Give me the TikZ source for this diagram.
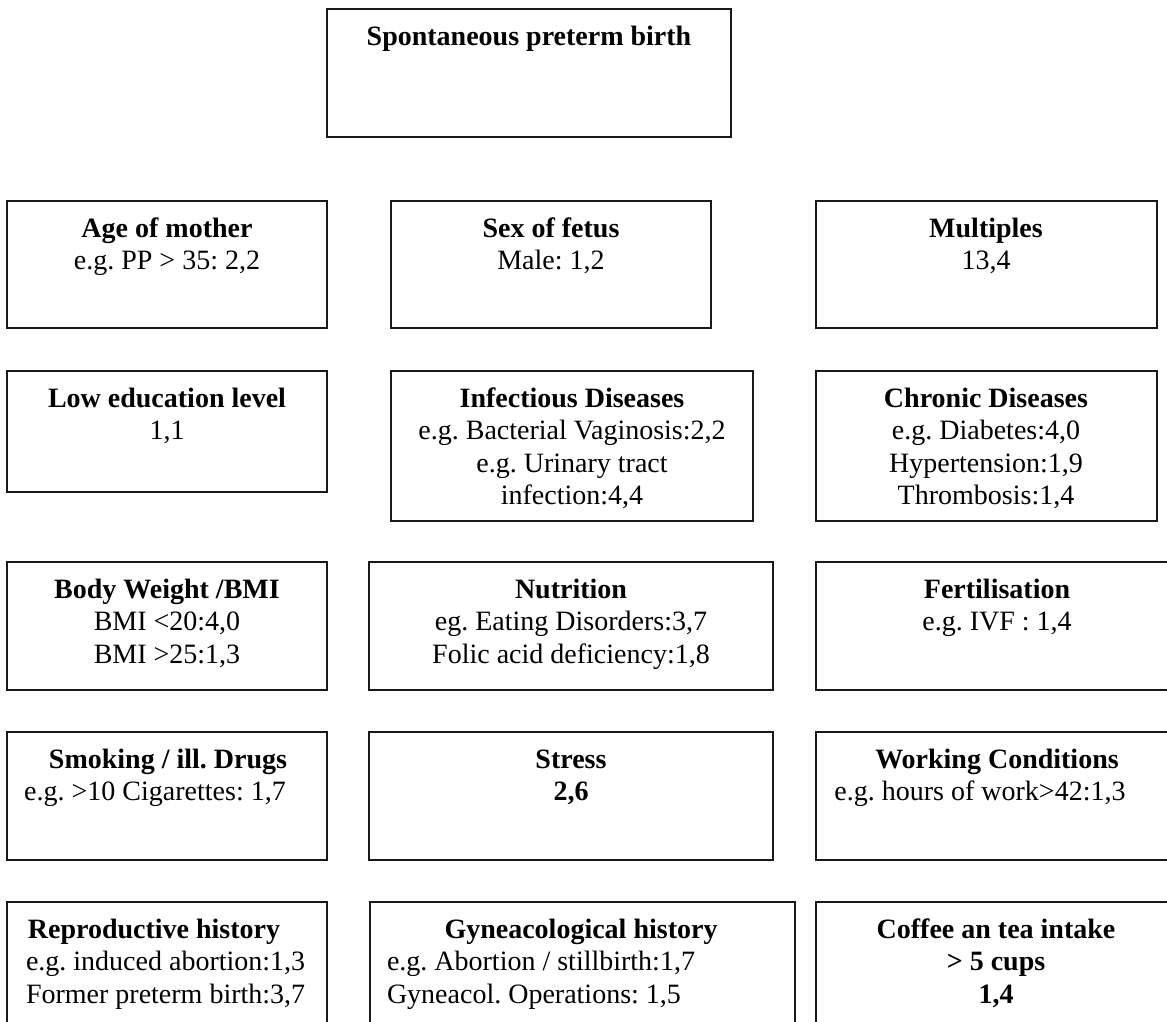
\documentclass[tikz,border=0pt]{standalone}
\usepackage{fontspec}
\setmainfont{Liberation Serif}
\frenchspacing
\begin{document}
\begin{tikzpicture}[x=1pt,y=-1pt,
  box/.style={draw=black!90, line width=1.3pt, inner sep=0pt, outer sep=0pt, anchor=north west},
  txt/.style={inner sep=0pt, outer sep=0pt, anchor=base, font=\fontsize{28}{32.5}\selectfont},
  txtl/.style={txt, anchor=base west},
  btxt/.style={txt, font=\fontsize{28}{32.5}\selectfont\bfseries}]
\useasboundingbox (0,0) rectangle (1167,1022);
% boxes
\node[box, minimum width=404pt, minimum height=128pt] (top) at (327,9) {};
\node[box, minimum width=320pt, minimum height=127pt] (age) at (7,201) {};
\node[box, minimum width=320pt, minimum height=127pt] (sex) at (391,201) {};
\node[box, minimum width=341pt, minimum height=127pt] (mult) at (816,201) {};
\node[box, minimum width=320pt, minimum height=121pt] (edu) at (7,371) {};
\node[box, minimum width=362pt, minimum height=150pt] (inf) at (391,371) {};
\node[box, minimum width=341pt, minimum height=150pt] (chr) at (816,371) {};
\node[box, minimum width=320pt, minimum height=128pt] (bmi) at (7,562) {};
\node[box, minimum width=404pt, minimum height=128pt] (nut) at (369,562) {};
\node[box, minimum width=362pt, minimum height=128pt] (fer) at (816,562) {};
\node[box, minimum width=320pt, minimum height=128pt] (smk) at (7,732) {};
\node[box, minimum width=404pt, minimum height=128pt] (str) at (369,732) {};
\node[box, minimum width=362pt, minimum height=128pt] (wrk) at (816,732) {};
\node[box, minimum width=320pt, minimum height=150pt] (rep) at (7,902) {};
\node[box, minimum width=425pt, minimum height=150pt] (gyn) at (370,902) {};
\node[box, minimum width=362pt, minimum height=150pt] (cof) at (816,902) {};
% texts
\node[btxt] (top-1) at (529,46) {Spontaneous preterm birth};

\node[btxt] (age-1) at (167,237) {Age of mother};
\node[txt] (age-2) at (167,269.5) {e.g. PP > 35: 2,2};
\node[btxt] (sex-1) at (551,237) {Sex of fetus};
\node[txt] (sex-2) at (551,269.5) {Male: 1,2};
\node[btxt] (mult-1) at (986,237) {Multiples};
\node[txt] (mult-2) at (986,269.5) {13,4};

\node[btxt] (edu-1) at (167,407) {Low education level};
\node[txt] (edu-2) at (167,439.5) {1,1};
\node[btxt] (inf-1) at (572,407) {Infectious Diseases};
\node[txt] (inf-2) at (572,439.5) {e.g. Bacterial Vaginosis:2,2};
\node[txt] (inf-3) at (572,472) {e.g. Urinary tract};
\node[txt] (inf-4) at (572,504.5) {infection:4,4};
\node[btxt] (chr-1) at (986,407) {Chronic Diseases};
\node[txt] (chr-2) at (986,439.5) {e.g. Diabetes:4,0};
\node[txt] (chr-3) at (986,472) {Hypertension:1,9};
\node[txt] (chr-4) at (986,504.5) {Thrombosis:1,4};

\node[btxt] (bmi-1) at (167,598) {Body Weight /BMI};
\node[txt] (bmi-2) at (167,630.5) {BMI <20:4,0};
\node[txt] (bmi-3) at (167,663) {BMI >25:1,3};
\node[btxt] (nut-1) at (571,598) {Nutrition};
\node[txt] (nut-2) at (571,630.5) {eg. Eating Disorders:3,7};
\node[txt] (nut-3) at (571,663) {Folic acid deficiency:1,8};
\node[btxt] (fer-1) at (997,598) {Fertilisation};
\node[txt] (fer-2) at (997,630.5) {e.g. IVF : 1,4};

\node[btxt] (smk-1) at (168,768) {Smoking / ill. Drugs};
\node[txt] (smk-2) at (155,800.5) {e.g. >10 Cigarettes: 1,7};
\node[btxt] (str-1) at (571,768) {Stress};
\node[btxt] (str-2) at (571,800.5) {2,6};
\node[btxt] (wrk-1) at (997,768) {Working Conditions};
\node[txt] (wrk-2) at (980,800.5) {e.g. hours of work>42:1,3};

\node[btxt] (rep-1) at (154,938) {Reproductive history};
\node[txtl] (rep-2) at (26,970.5) {e.g. induced abortion:1,3};
\node[txtl] (rep-3) at (26,1003) {Former preterm birth:3,7};
\node[btxt] (gyn-1) at (581,938) {Gyneacological history};
\node[txtl] (gyn-2) at (387,970.5) {e.g. Abortion / stillbirth:1,7};
\node[txtl] (gyn-3) at (387,1003) {Gyneacol. Operations: 1,5};
\node[btxt] (cof-1) at (996,938) {Coffee an tea intake};
\node[btxt] (cof-2) at (996,970.5) {> 5 cups};
\node[btxt] (cof-3) at (996,1003) {1,4};
\end{tikzpicture}
\end{document}
